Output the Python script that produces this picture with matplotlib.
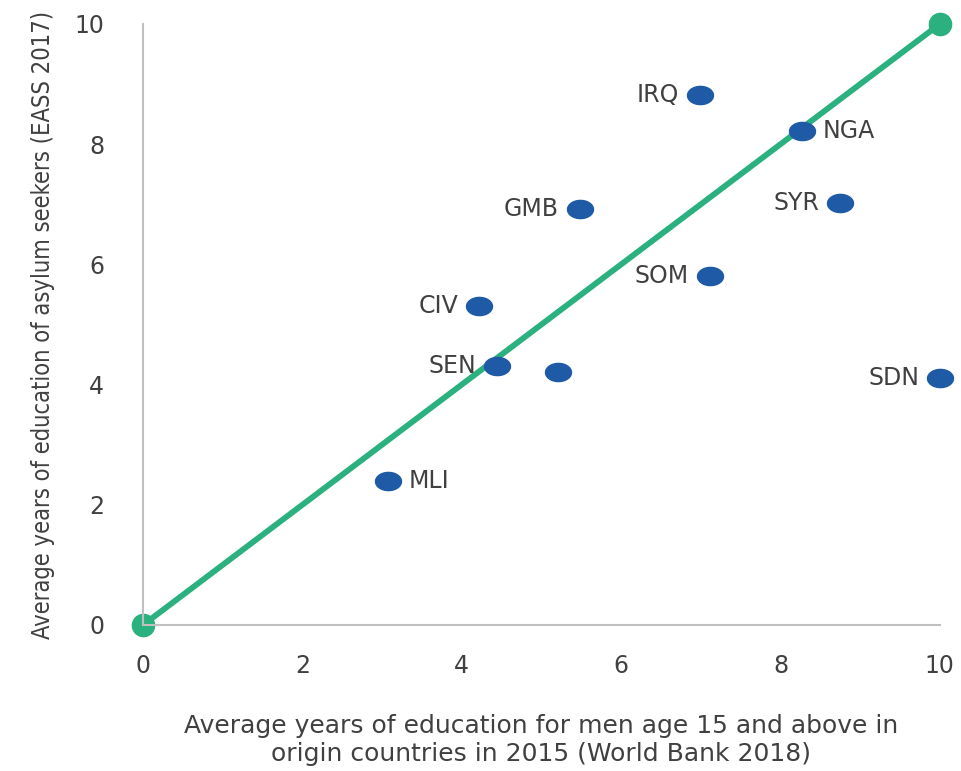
import numpy as np
from matplotlib import pyplot as plt
from matplotlib.path import Path

# data
countries = ["IRQ", "NGA", "SYR", "GMB", "SOM", "CIV", "SEN", "", "SDN", "MLI"]
origin_edu = [6.99, 8.27, 8.75, 5.48, 7.11, 4.22, 4.44, 5.21, 10.0, 3.07]
asylum_edu = [8.82, 8.22, 7.02, 6.92, 5.81, 5.31, 4.31, 4.21, 4.11, 2.40]
label_side = ["left", "right", "left", "left", "left", "left", "left", "left", "left", "right"]
diag = [0, 10]

blue = "#1f5aa6"
green = "#2bb07f"
grey = "#404040"

plt.rcParams['font.family'] = ['DejaVu Sans']

fig = plt.figure(figsize=(9.62, 7.71), dpi=100)
ax = fig.add_axes([0.1487, 0.1894, 0.8283, 0.7795])

ax.plot(diag, diag, color=green, lw=4.2, solid_capstyle='round', zorder=2,
        marker='o', markersize=16, clip_on=False)

t = np.linspace(0, 2 * np.pi, 60)
ellipse = Path(np.c_[np.cos(t), 0.7 * np.sin(t)])
ax.scatter(origin_edu, asylum_edu, marker=ellipse, s=350, color=blue, zorder=3,
           clip_on=False)

for name, x, y, side in zip(countries, origin_edu, asylum_edu, label_side):
    if not name:
        continue
    dx = -15 if side == "left" else 15
    ax.annotate(name, (x, y), xytext=(dx, 0), textcoords='offset points',
                ha='right' if side == "left" else 'left', va='center',
                fontsize=17, color=grey)

ax.set_xlim(0, 10)
ax.set_ylim(0, 10)
ax.set_xticks(range(0, 11, 2))
ax.set_yticks(range(0, 11, 2))
ax.tick_params(length=0, labelsize=17, labelcolor=grey)
ax.tick_params(axis='y', pad=28)
ax.tick_params(axis='x', pad=21)
for s in ["top", "right"]:
    ax.spines[s].set_visible(False)
for s in ["left", "bottom"]:
    ax.spines[s].set_color("#c0c0c0")
    ax.spines[s].set_linewidth(1.5)

ax.set_xlabel("Average years of education for men age 15 and above in\norigin countries in 2015 (World Bank 2018)",
              fontsize=18, color=grey, labelpad=26, linespacing=1.2)
ax.set_ylabel("Average years of education of asylum seekers (EASS 2017)",
              fontsize=17, color=grey, labelpad=14,
              family=['DejaVu Sans Condensed', 'DejaVu Sans'], fontstretch='condensed')

fig.savefig("out.png", dpi=100)
